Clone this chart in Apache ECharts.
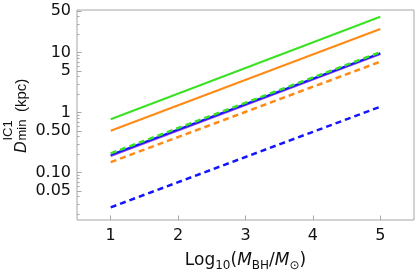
<!DOCTYPE html>
<html><head><meta charset="utf-8">
<script src="https://cdn.jsdelivr.net/npm/echarts@6/dist/echarts.min.js"></script>
<style>html,body{margin:0;padding:0;background:#fff}#c{width:415px;height:279px}</style>
</head><body><div id="c"></div>
<script>
// x positions (Log10 M_BH / M_sun) where each line is sampled
const xValues = [1, 5];
// D_min^IC1 (kpc) for each curve
const greenSolid   = [0.78, 39.8];
const orangeSolid  = [0.50, 24.8];
const greenDashed  = [0.21, 10.2];
const blueSolid    = [0.197, 9.8];
const purpleSolid  = [0.19, 9.5];
const orangeDashed = [0.15, 7.1];
const blueDashed   = [0.0265, 1.26];

const xTicks = [1, 2, 3, 4, 5];
const xRange = [0.5, 5.5];
const yRange = [0.0163, 51.5];
const yTickValues = [0.05, 0.1, 0.5, 1, 5, 10, 50];
const yTickLabels = ['0.05', '0.10', '0.50', '1', '5', '10', '50'];
const yMinorValues = [0.02,0.03,0.04,0.06,0.07,0.08,0.09,0.2,0.3,0.4,0.6,0.7,0.8,0.9,2,3,4,6,7,8,9,20,30,40];

const L = Math.log10;
function pts(arr) { return xValues.map((x, i) => [x, L(arr[i])]); }

const FONT = '"DejaVu Sans", sans-serif';
const LFONT = '"Liberation Sans", sans-serif';
const GREEN = '#3ce024', ORANGE = '#ff8a14', BLUE = '#1414ff', PURPLE = '#9a46ff';
const R = Math.PI / 2;

function line(name, arr, color, dashed, w) {
  return {
    name, type: 'line', data: pts(arr), showSymbol: false, symbol: 'none',
    lineStyle: { color, width: w, type: dashed ? [6, 4] : 'solid', cap: 'butt' },
    silent: true, animation: false
  };
}

const chart = echarts.init(document.getElementById('c'), null, { renderer: 'canvas' });
chart.setOption({
  animation: false,
  grid: { left: 77, top: 10, right: 1, bottom: 59, show: true, borderColor: '#a6a6a6', borderWidth: 1, backgroundColor: 'transparent' },
  xAxis: {
    type: 'value', min: xRange[0], max: xRange[1],
    axisLine: { show: false, onZero: false }, splitLine: { show: false },
    axisTick: { inside: true, length: 4.5, lineStyle: { color: '#a6a6a6' }, customValues: xTicks },
    axisLabel: { customValues: xTicks, margin: 8, color: '#111', fontSize: 16, fontFamily: FONT },
    name: 'Log{s|10}({i|M}{s|BH}/{i|M}{s|⊙})',
    nameLocation: 'middle', nameGap: 30,
    nameTextStyle: {
      fontFamily: FONT, fontSize: 17, color: '#111', lineHeight: 24, verticalAlign: 'middle',
      rich: {
        s: { fontFamily: FONT, fontSize: 12, color: '#111', lineHeight: 24, verticalAlign: 'bottom', padding: [0,0,1,0] },
        i: { fontFamily: FONT, fontSize: 17, fontStyle: 'italic', color: '#111', lineHeight: 24, verticalAlign: 'middle' }
      }
    }
  },
  yAxis: [{
    type: 'value', min: L(yRange[0]), max: L(yRange[1]),
    axisLine: { show: false, onZero: false }, splitLine: { show: false },
    axisTick: { inside: true, length: 4.5, lineStyle: { color: '#a6a6a6' }, customValues: yTickValues.map(L) },
    axisLabel: {
      customValues: yTickValues.map(L), margin: 6, color: '#111', fontSize: 16, fontFamily: FONT,
      formatter: v => { let b = 0, d = 1e9; yTickValues.forEach((t, k) => { const e = Math.abs(L(t) - v); if (e < d) { d = e; b = k; } }); return yTickLabels[b]; }
    }
  }, {
    type: 'value', min: L(yRange[0]), max: L(yRange[1]), position: 'left',
    axisLine: { show: false, onZero: false }, splitLine: { show: false },
    axisTick: { inside: true, length: 2.5, lineStyle: { color: '#a6a6a6' }, customValues: yMinorValues.map(L) },
    axisLabel: { show: false }
  }],
  graphic: [
    { type: 'text', x: 29.4, y: 153, rotation: R, silent: true, style: { text: 'D', font: 'italic 16px ' + LFONT, fill: '#111', verticalAlign: 'bottom', align: 'left' } },
    { type: 'text', x: 15.2, y: 140.5, rotation: R, silent: true, style: { text: 'IC1', font: '13px ' + LFONT, fill: '#111', verticalAlign: 'bottom', align: 'left' } },
    { type: 'text', x: 29.2, y: 140.5, rotation: R, silent: true, style: { text: 'min', font: '13px ' + LFONT, fill: '#111', verticalAlign: 'bottom', align: 'left' } },
    { type: 'text', x: 29, y: 112, rotation: R, silent: true, style: { text: '(kpc)', font: '15px ' + LFONT, fill: '#111', verticalAlign: 'bottom', align: 'left' } }
  ],
  series: [
    line('orangeDashed', orangeDashed, ORANGE, true, 2.5),
    line('blueDashed', blueDashed, BLUE, true, 2.5),
    line('purpleSolid', purpleSolid, PURPLE, false, 2),
    line('blueSolid', blueSolid, BLUE, false, 2),
    line('greenDashed', greenDashed, GREEN, true, 2.5),
    line('orangeSolid', orangeSolid, ORANGE, false, 2),
    line('greenSolid', greenSolid, GREEN, false, 2)
  ]
});
</script>
</body></html>
